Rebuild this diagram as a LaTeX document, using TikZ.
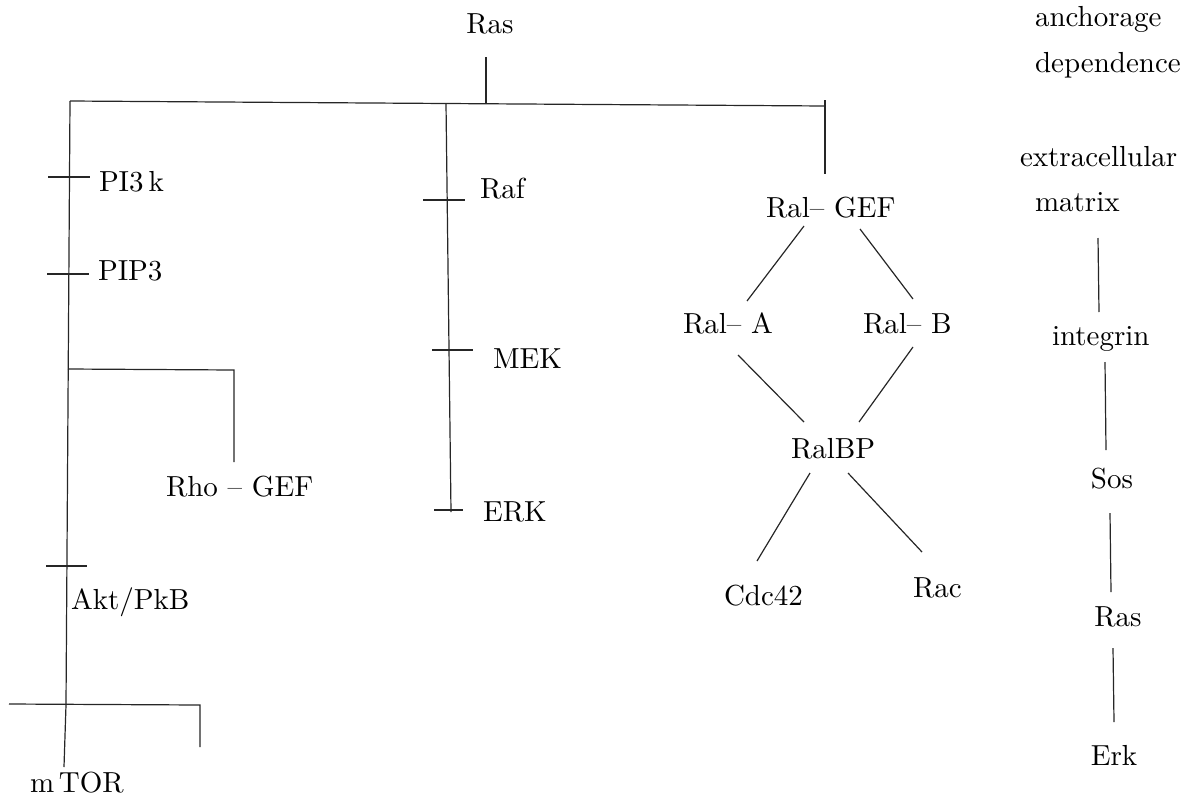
\documentclass[tikz,border=0pt]{standalone}
\usepackage{graphicx}
\newcommand{\lbltxt}[1]{{\fontsize{10}{12}\selectfont\scalebox{2.9}{#1}}}
\begin{document}
\begin{tikzpicture}[x=1pt,y=-1pt,
  lbl/.style={inner sep=0pt,outer sep=0pt,anchor=base west},
  clbl/.style={inner sep=0pt,outer sep=0pt,anchor=base},
  link/.style={line width=1.2pt,black!85}]
\useasboundingbox (0,0) rectangle (1188,798);
% labels
\node[clbl] (ras) at (490,33) {\lbltxt{Ras}};
\node[lbl] (anch) at (1035,26) {\lbltxt{anchorage}};
\node[lbl] (dep) at (1035,72) {\lbltxt{dependence}};
\node[lbl] (ecm) at (1020,166) {\lbltxt{extracellular}};
\node[lbl] (mat) at (1035,211) {\lbltxt{matrix}};
\node[lbl] (integ) at (1052,345) {\lbltxt{integrin}};
\node[clbl] (sos) at (1112,488) {\lbltxt{Sos}};
\node[clbl] (ras2) at (1118,626) {\lbltxt{Ras}};
\node[clbl] (erk2) at (1114,765) {\lbltxt{Erk}};
\node[lbl] (pi3k) at (99,191) {\lbltxt{PI3\,k}};
\node[lbl] (pip3) at (98,280) {\lbltxt{PIP3}};
\node[lbl] (raf) at (480,198) {\lbltxt{Raf}};
\node[lbl] (mek) at (493,368) {\lbltxt{MEK}};
\node[lbl] (erk) at (483,521) {\lbltxt{ERK}};
\node[lbl] (rho) at (166,496) {\lbltxt{Rho -- GEF}};
\node[lbl] (akt) at (71,609) {\lbltxt{Akt/PkB}};
\node[lbl] (mtor) at (30,792) {\lbltxt{m\,TOR}};
\node[lbl] (ralgef) at (766,217) {\lbltxt{Ral-- GEF}};
\node[lbl] (rala) at (683,333) {\lbltxt{Ral-- A}};
\node[lbl] (ralb) at (863,333) {\lbltxt{Ral-- B}};
\node[lbl] (ralbp) at (791,458) {\lbltxt{RalBP}};
\node[lbl] (cdc) at (724,605) {\lbltxt{Cdc42}};
\node[lbl] (rac) at (913,597) {\lbltxt{Rac}};
% junction coordinates
\coordinate (rasbot) at (486,57);
\coordinate (barL) at (70,101);
\coordinate (barM) at (446,103.5);
\coordinate (barR) at (825,106);
\coordinate (rasj) at (486,104);
\coordinate (gefTop) at (825,100);
\coordinate (gefEnd) at (825,174);
\coordinate (leftJ) at (66,705);
\coordinate (leftEnd) at (64,767);
\coordinate (midEnd) at (451,512);
\coordinate (rhoJ) at (68,369);
\coordinate (rhoC) at (234,370);
\coordinate (rhoEnd) at (234,462);
\coordinate (botL) at (9,704);
\coordinate (botR) at (200,705);
\coordinate (botRe) at (200,747);
% main tree
\draw[link] (rasbot) -- (rasj);
\draw[link] (barL) -- (barM) -- (barR);
\draw[link] (gefTop) -- (gefEnd);
\draw[link] (barL) -- (leftJ) -- (leftEnd);
\draw[link] (barM) -- (midEnd);
\draw[link] (rhoJ) -- (rhoC) -- (rhoEnd);
\draw[link] (botL) -- (botR) -- (botRe);
% ticks
\draw[link] (48,177) -- (90,177);
\draw[link] (47,274) -- (89,274);
\draw[link] (46,566) -- (87,566);
\draw[link] (423,200) -- (465,200);
\draw[link] (432,350) -- (473,350);
\draw[link] (434,510) -- (463,510);
% Ral network
\draw[link] (804,226) -- (747,301);
\draw[link] (860,229) -- (913,299);
\draw[link] (738,355) -- (804,422);
\draw[link] (913,347) -- (859,422);
\draw[link] (810,473) -- (757,561);
\draw[link] (848,473) -- (922,552);
% right column
\draw[link] (1098,238) -- (1099,312);
\draw[link] (1105,362) -- (1106,450);
\draw[link] (1110,513) -- (1111,592);
\draw[link] (1113,648) -- (1114,722);
\end{tikzpicture}
\end{document}
